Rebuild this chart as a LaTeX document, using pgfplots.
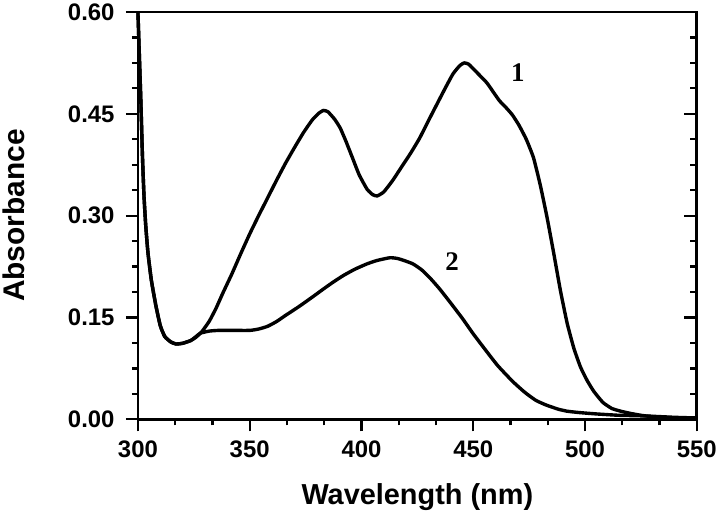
\documentclass[border=0pt]{standalone}
\usepackage{fontspec}
\setmainfont{Liberation Sans}
\newfontfamily\seriffont{Liberation Serif}
\usepackage{pgfplots}
\pgfplotsset{compat=1.18}

\pgfplotstableread{
x y
300 0.60
300.6 0.54
301.3 0.47
302 0.39
302.7 0.33
303.5 0.285
304.5 0.245
306 0.205
308 0.168
310 0.138
312 0.122
314.7 0.114
317 0.111
320 0.112
323.6 0.116
326 0.121
328.8 0.130
332 0.145
335 0.164
338 0.186
342 0.214
346 0.244
350 0.273
354 0.300
358 0.326
362 0.352
366 0.377
370 0.400
374 0.422
378 0.441
381 0.451
383 0.455
385 0.453
388 0.442
390.5 0.429
393 0.41
396 0.385
399 0.36
402.5 0.339
405 0.331
407 0.329
410 0.335
414 0.352
418 0.372
422 0.392
426 0.414
430 0.440
435 0.472
438 0.491
441 0.509
444 0.521
446 0.525
448 0.523
451 0.513
456 0.496
459 0.482
461.8 0.469
465 0.458
467.6 0.448
470.5 0.433
473.8 0.412
477 0.385
480 0.345
483 0.298
486 0.245
489 0.19
492 0.142
495 0.105
498 0.077
501 0.057
504 0.041
508 0.025
512 0.016
516 0.012
520 0.009
525 0.006
530 0.004
540 0.002
550 0.001
}\curveone

\pgfplotstableread{
x y
300 0.60
300.6 0.54
301.3 0.47
302 0.39
302.7 0.33
303.5 0.285
304.5 0.245
306 0.205
308 0.168
310 0.138
312 0.122
314.7 0.114
317 0.111
320 0.112
323.6 0.116
326 0.122
328 0.127
332 0.130
336 0.131
342 0.131
350 0.131
354 0.133
358 0.137
362 0.144
366 0.153
372 0.166
378 0.180
383 0.192
387.3 0.202
392 0.212
397 0.221
402.5 0.229
407 0.234
412.7 0.238
416 0.237
419 0.234
423 0.229
427 0.220
431 0.207
435 0.192
440 0.171
445.3 0.148
450 0.126
456 0.100
461 0.079
467.6 0.056
473 0.040
478 0.028
482.7 0.021
488 0.015
492 0.012
497.4 0.010
505 0.008
515 0.006
527 0.005
540 0.003
550 0.002
}\curvetwo

\begin{document}
\begin{tikzpicture}
\begin{axis}[
    width=561pt, height=409pt,
    scale only axis,
    xmin=300, xmax=550, ymin=0, ymax=0.6,
    xtick={300,350,...,550},
    ytick={0,0.15,0.30,0.45,0.60},
    minor x tick num=2,
    minor y tick num=3,
    xtick pos=bottom, ytick pos=left,
    tick align=outside,
    major tick length=12pt,
    minor tick length=6pt,
    every tick/.style={black, line width=2.2pt},
    axis line style={line width=2.8pt},
    /pgf/number format/assume math mode=true,
    tick label style={font=\bfseries\fontsize{24}{27}\selectfont},
    yticklabel style={/pgf/number format/fixed, /pgf/number format/fixed zerofill, /pgf/number format/precision=2, xshift=-8pt},
    xticklabel style={/pgf/number format/1000 sep={}, yshift=-6pt},
    xlabel={Wavelength (nm)},
    ylabel={Absorbance},
    xlabel style={font=\bfseries\fontsize{29}{32}\selectfont, yshift=-19pt},
    ylabel style={font=\bfseries\fontsize{30}{33}\selectfont, yshift=36pt},
    clip=false,
]
\addplot[black, line width=3.4pt, line join=round, smooth, tension=0.3] table[x=x, y=y] {\curveone};
\addplot[black, line width=3.4pt, line join=round, smooth, tension=0.3] table[x=x, y=y] {\curvetwo};
\node[font=\seriffont\bfseries\fontsize{27}{30}\selectfont] at (axis cs:470,0.51) {1};
\node[font=\seriffont\bfseries\fontsize{27}{30}\selectfont] at (axis cs:440.5,0.233) {2};
\path (rel axis cs:0,0) ++(-137pt,-99pt) coordinate (bbll);
\path (rel axis cs:1,1) ++(22pt,12pt) coordinate (bbur);
\end{axis}
\begin{axis}[
    width=561pt, height=409pt,
    scale only axis,
    xmin=300, xmax=550, ymin=0, ymax=0.6,
    axis x line=none,
    axis y line*=right,
    ytick={0,0.15,0.30,0.45,0.60},
    minor y tick num=3,
    yticklabels={},
    tick align=inside,
    major tick length=13pt,
    minor tick length=7pt,
    every tick/.style={black, line width=2.2pt},
    axis line style={line width=2.8pt, -},
]
\end{axis}
\useasboundingbox (bbll) rectangle (bbur);
\end{tikzpicture}
\end{document}
